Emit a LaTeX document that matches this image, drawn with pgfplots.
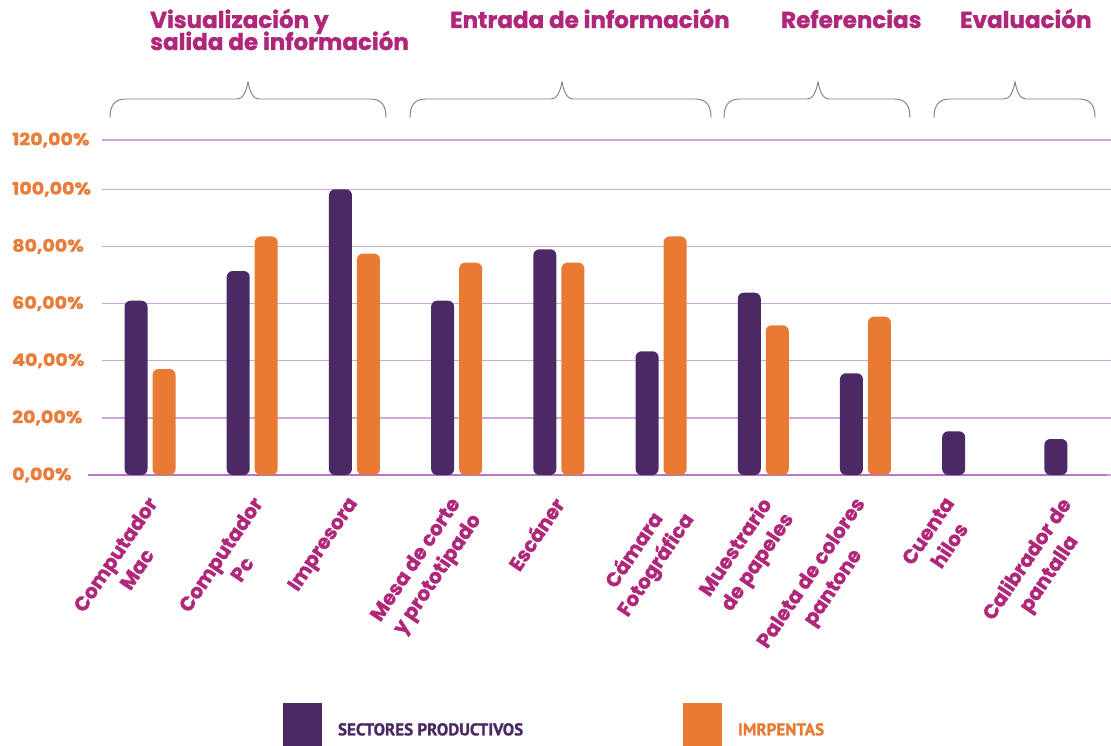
\documentclass[border=0pt]{standalone}
\usepackage{pgfplots}
\pgfplotsset{compat=1.18}
\usepackage{fontspec}
\setmainfont{Poppins}
\newfontfamily\heavy{Poppins}[BoldFeatures={FakeBold=1.3}]
\newfontfamily\tickfont{Poppins}[BoldFeatures={FakeBold=1.3, FakeStretch=1.12}]
\newfontfamily\legfont{PT Sans}[BoldFeatures={FakeBold=1.2}]
\definecolor{cpurple}{RGB}{74,41,101}
\definecolor{corange}{RGB}{233,122,51}
\definecolor{cmag}{RGB}{176,38,120}
\definecolor{ctick}{RGB}{232,124,56}
\definecolor{cgrid}{RGB}{208,165,216}
\definecolor{caxis}{RGB}{185,118,196}
\definecolor{cbrace}{RGB}{125,125,125}

\pgfplotstableread{
x y
0 61.0
1 71.4
2 100.0
3 61.0
4 79.0
5 43.3
6 63.8
7 35.6
8 15.3
9 12.6
}\sectores
\pgfplotstableread{
x y
0 37.1
1 83.5
2 77.5
3 74.3
4 74.3
5 83.5
6 52.4
7 55.4
}\imprentas

\begin{document}
\begin{tikzpicture}
\useasboundingbox (0pt,0pt) rectangle (1111pt,-746pt);
\begin{axis}[
  at={(102pt,-475pt)}, anchor=south west,
  scale only axis, width=1009pt, height=335pt,
  xmin=-0.47, xmax=9.403, ymin=0, ymax=117.25,
  clip=false,
  axis line style={draw=none},
  major tick length=0pt,
  ybar=5pt, bar width=23pt,
  ytick={0,20,40,60,80,100,117.25},
  yticklabels={{0,00\%},{20,00\%},{40,00\%},{60,00\%},{80,00\%},{100,00\%},{120,00\%}},
  ymajorgrids, grid style={cgrid, line width=1.5pt},
  yticklabel style={anchor=west, xshift=-90pt, inner sep=0pt,
    font=\fontsize{17}{17}\selectfont\tickfont\bfseries, text=ctick},
  xtick={-0.04,0.99,1.92,2.92,3.93,4.98,5.96,6.88,7.76,8.89},
  xticklabels={{Computador\\Mac},{Computador\\Pc},{Impresora},{Mesa de corte\\y prototipado},{Escáner},{Cámara\\Fotográfica},{Muestrario\\de papeles},{Paleta de colores\\pantone},{Cuenta\\hilos},{Calibrador de\\pantalla}},
  xticklabel style={yshift=-20pt, rotate=56, anchor=north east, align=center, inner sep=0pt,
    font=\fontsize{20}{26}\selectfont\heavy\bfseries, text=cmag},
  legend columns=2,
  legend style={at={(0.1794,-0.6806)}, anchor=north west, draw=none, fill=none,
    inner sep=0pt, outer sep=0pt, nodes={inner sep=0pt},
    /tikz/every odd column/.append style={column sep=16pt},
    /tikz/every even column/.append style={column sep=0pt}},
  myleg/.style={legend image code/.code={\fill[##1, rounded corners=0pt, draw=none] (0pt,-16pt) rectangle (39pt,27pt);}},
]
\draw[caxis, line width=1.6pt] (axis cs:-0.607,0) -- (axis cs:9.364,0);
\addplot[fill=cpurple, draw=none, rounded corners=6pt, myleg] table[x=x,y=y] {\sectores};
\addplot[fill=corange, draw=none, rounded corners=6pt, myleg] table[x=x,y=y] {\imprentas};
\legend{\makebox[345pt][l]{\fontsize{17}{17}\selectfont\legfont\bfseries\color{cpurple}SECTORES PRODUCTIVOS},
  {\fontsize{17}{17}\selectfont\legfont\bfseries\color{corange}IMRPENTAS}}
\end{axis}
\begin{scope}[font=\fontsize{23}{23}\selectfont\heavy\bfseries, text=cmag]
\node[anchor=base west, inner sep=0pt] at (150pt,-28pt) {Visualización y};
\node[anchor=base west, inner sep=0pt] at (150pt,-50pt) {salida de información};
\node[anchor=base west, inner sep=0pt] at (450pt,-28pt) {Entrada de información};
\node[anchor=base west, inner sep=0pt] at (781pt,-28pt) {Referencias};
\node[anchor=base west, inner sep=0pt] at (960pt,-28pt) {Evaluación};
\end{scope}
\begin{scope}[cbrace, line width=0.9pt]
\foreach \xl/\xm/\xr in {110/248/386, 410/562/711, 724/818/910, 934/1015/1095}{
  \draw (\xl pt,-118pt) .. controls (\xl pt,-106pt) and (\xl pt+4pt,-99pt) .. (\xl pt+16pt,-99pt)
    -- (\xm pt-11pt,-99pt) .. controls (\xm pt-5pt,-99pt) and (\xm pt-2pt,-92pt) .. (\xm pt,-82pt)
    .. controls (\xm pt+2pt,-92pt) and (\xm pt+5pt,-99pt) .. (\xm pt+11pt,-99pt)
    -- (\xr pt-16pt,-99pt) .. controls (\xr pt-4pt,-99pt) and (\xr pt,-106pt) .. (\xr pt,-118pt);
}
\end{scope}
\end{tikzpicture}
\end{document}
